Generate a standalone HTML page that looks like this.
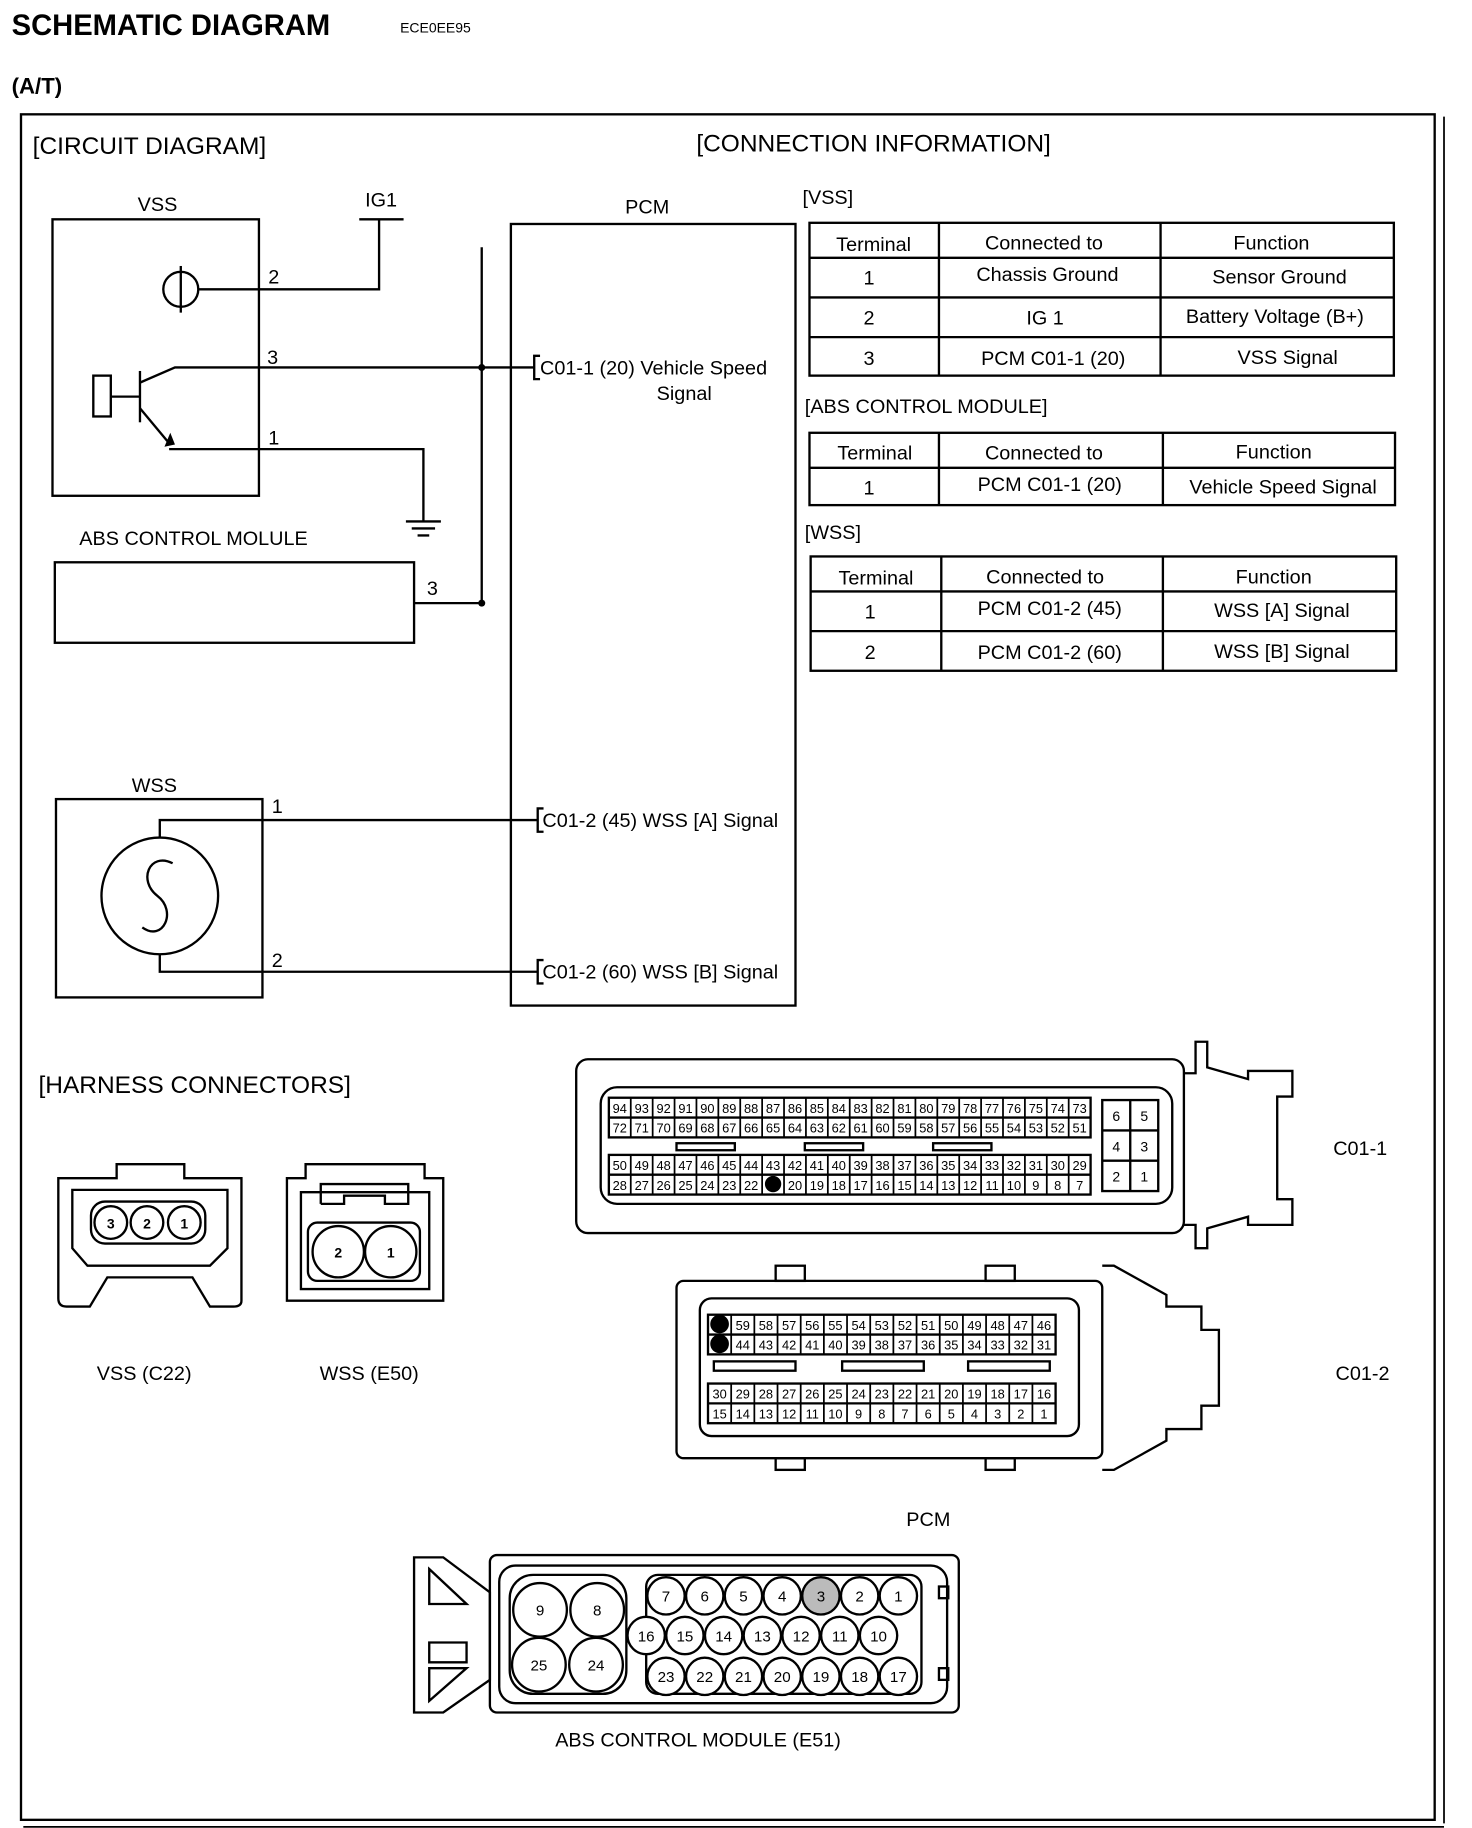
<!DOCTYPE html>
<html><head><meta charset="utf-8"><style>
html,body{margin:0;padding:0;background:#fff}
svg{display:block}
text{font-family:"Liberation Sans",sans-serif;fill:#000}
</style></head><body>
<svg width="1472" height="1828" viewBox="0 0 1262 1567" preserveAspectRatio="none" xmlns="http://www.w3.org/2000/svg">
<rect width="1280" height="1590" fill="#fff"/>
<g stroke="#000" fill="none" stroke-width="2">
<rect x="18" y="98" width="1212" height="1462"/>
<line x1="1238" y1="100" x2="1238" y2="1563" stroke-width="1.5"/>
<line x1="20" y1="1566" x2="1238" y2="1566" stroke-width="1.5"/>
</g>
<text x="10" y="30" font-size="25" font-weight="bold">SCHEMATIC DIAGRAM</text>
<text x="343" y="28" font-size="12">ECE0EE95</text>
<text x="10" y="80" font-size="19" font-weight="bold">(A/T)</text>
<text x="28" y="132" font-size="21">[CIRCUIT DIAGRAM]</text>
<text x="597" y="130" font-size="21">[CONNECTION INFORMATION]</text>

<g stroke="#000" fill="none" stroke-width="2">
<rect x="45" y="188" width="177" height="237"/>
<line x1="308" y1="188" x2="346" y2="188"/>
<polyline points="325,188 325,248 222,248"/>
<circle cx="155" cy="248" r="15"/>
<line x1="155" y1="228" x2="155" y2="268"/>
<line x1="170" y1="248" x2="222" y2="248"/>
<rect x="80" y="322" width="15" height="35"/>
<line x1="95" y1="340" x2="120" y2="340"/>
<line x1="120" y1="318" x2="120" y2="362"/>
<polyline points="120,328 150,315 458,315"/>
<polyline points="120,350 145,380"/>
<polyline points="145,385 363,385 363,447"/>
<line x1="348" y1="447" x2="378" y2="447"/>
<line x1="353" y1="453" x2="373" y2="453"/>
<line x1="358" y1="459" x2="368" y2="459"/>
<line x1="413" y1="212" x2="413" y2="517"/>
<rect x="47" y="482" width="308" height="69"/>
<line x1="355" y1="517" x2="413" y2="517"/>
<rect x="438" y="192" width="244" height="670"/>
<polyline points="463,305 458,305 458,325 463,325"/>
<polyline points="466,693 461,693 461,713 466,713"/>
<polyline points="466,823 461,823 461,843 466,843"/>
<rect x="48" y="685" width="177" height="170"/>
<circle cx="137" cy="768" r="50"/>
<path d="M148,740 C128,730 118,755 135,768 C152,781 140,808 122,795"/>
<polyline points="137,718 137,703 461,703"/>
<polyline points="137,818 137,833 461,833"/>
</g>
<polygon points="141,383 146,371 150,381" fill="#000"/>
<circle cx="413" cy="315" r="3" fill="#000"/>
<circle cx="413" cy="517" r="3" fill="#000"/>
<g font-size="17">
<text x="118" y="181">VSS</text>
<text x="313" y="177">IG1</text>
<text x="230" y="243">2</text>
<text x="229" y="312">3</text>
<text x="230" y="381">1</text>
<text x="68" y="467">ABS CONTROL MOLULE</text>
<text x="366" y="510">3</text>
<text x="536" y="183">PCM</text>
<text x="463" y="321">C01-1 (20)  Vehicle Speed</text>
<text x="563" y="343">Signal</text>
<text x="113" y="679">WSS</text>
<text x="233" y="697">1</text>
<text x="233" y="829">2</text>
<text x="465" y="709">C01-2 (45) WSS [A] Signal</text>
<text x="465" y="839">C01-2 (60) WSS [B] Signal</text>
</g>

<g stroke="#000" fill="none" stroke-width="2">
<rect x="694" y="191" width="501" height="131"/>
<line x1="805" y1="191" x2="805" y2="322"/><line x1="995" y1="191" x2="995" y2="322"/>
<line x1="694" y1="221" x2="1195" y2="221"/><line x1="694" y1="255" x2="1195" y2="255"/><line x1="694" y1="289" x2="1195" y2="289"/>
<rect x="694" y="371" width="502" height="62"/>
<line x1="805" y1="371" x2="805" y2="433"/><line x1="997" y1="371" x2="997" y2="433"/>
<line x1="694" y1="401" x2="1196" y2="401"/>
<rect x="695" y="477" width="502" height="98"/>
<line x1="807" y1="477" x2="807" y2="575"/><line x1="997" y1="477" x2="997" y2="575"/>
<line x1="695" y1="507" x2="1197" y2="507"/><line x1="695" y1="541" x2="1197" y2="541"/>
</g>
<g font-size="17" text-anchor="middle">
<text x="688" y="175" text-anchor="start">[VSS]</text>
<text x="749" y="215">Terminal</text><text x="895" y="214">Connected to</text><text x="1090" y="214">Function</text>
<text x="745" y="244">1</text><text x="898" y="241">Chassis Ground</text><text x="1097" y="243">Sensor Ground</text>
<text x="745" y="278">2</text><text x="896" y="278">IG 1</text><text x="1093" y="277">Battery Voltage (B+)</text>
<text x="745" y="313">3</text><text x="903" y="313">PCM C01-1 (20)</text><text x="1104" y="312">VSS Signal</text>
<text x="690" y="354" text-anchor="start">[ABS CONTROL MODULE]</text>
<text x="750" y="394">Terminal</text><text x="895" y="394">Connected to</text><text x="1092" y="393">Function</text>
<text x="745" y="424">1</text><text x="900" y="421">PCM C01-1 (20)</text><text x="1100" y="423">Vehicle Speed Signal</text>
<text x="690" y="462" text-anchor="start">[WSS]</text>
<text x="751" y="501">Terminal</text><text x="896" y="500">Connected to</text><text x="1092" y="500">Function</text>
<text x="746" y="530">1</text><text x="900" y="527">PCM C01-2 (45)</text><text x="1099" y="529">WSS [A] Signal</text>
<text x="746" y="565">2</text><text x="900" y="565">PCM C01-2 (60)</text><text x="1099" y="564">WSS [B] Signal</text>
</g>

<text x="33" y="937" font-size="21">[HARNESS CONNECTORS]</text>

<g stroke="#000" fill="none" stroke-width="2">
<path d="M50,1010 L100,1010 L100,998 L158,998 L158,1010 L207,1010 L207,1115 Q207,1120 200,1120 L180,1120 L165,1095 L92,1095 L77,1120 L57,1120 Q50,1120 50,1113 Z"/>
<path d="M62,1020 L195,1020 L195,1070 L180,1085 L75,1085 L62,1070 Z"/>
<rect x="78" y="1030" width="98" height="36" rx="12"/>
<circle cx="95" cy="1048" r="14"/><circle cx="126" cy="1048" r="14"/><circle cx="158" cy="1048" r="14"/>
<path d="M246,1010 L262,1010 L262,998 L364,998 L364,1010 L380,1010 L380,1115 L246,1115 Z"/>
<path d="M258,1022 L368,1022 L368,1105 L258,1105 Z"/>
<polyline points="275,1032 275,1015 350,1015 350,1032 330,1032 330,1025 295,1025 295,1032 275,1032"/>
<rect x="264" y="1048" width="96" height="50" rx="8"/>
<circle cx="290" cy="1073" r="22"/><circle cx="335" cy="1073" r="22"/>
</g>
<g font-size="12" font-weight="bold" text-anchor="middle">
<text x="95" y="1053">3</text><text x="126" y="1053">2</text><text x="158" y="1053">1</text>
<text x="290" y="1078">2</text><text x="335" y="1078">1</text>
</g>
<text x="83" y="1183" font-size="17">VSS (C22)</text>
<text x="274" y="1183" font-size="17">WSS (E50)</text>

<g stroke="#000" fill="none" stroke-width="2">
<rect x="494" y="908" width="521" height="149" rx="10"/>
<rect x="515" y="932" width="490" height="100" rx="14"/>
<path d="M1015,920 L1025,920 L1025,893 L1035,893 L1035,915 L1070,925 L1070,918 L1108,918 L1108,940 L1095,940 L1095,1028 L1108,1028 L1108,1050 L1070,1050 L1070,1043 L1035,1053 L1035,1070 L1025,1070 L1025,1050 L1015,1050"/>
<rect x="522" y="941" width="413" height="34"/>
<line x1="522" y1="958" x2="935" y2="958"/>
<rect x="522" y="990" width="413" height="34"/>
<line x1="522" y1="1007" x2="935" y2="1007"/>
<rect x="945" y="943" width="48" height="78"/>
<line x1="945" y1="969" x2="993" y2="969"/><line x1="945" y1="995" x2="993" y2="995"/><line x1="969" y1="943" x2="969" y2="1021"/>
<rect x="580" y="980" width="50" height="6"/><rect x="690" y="980" width="50" height="6"/><rect x="800" y="980" width="50" height="6"/>
</g>
<g font-size="11" text-anchor="middle" id="c011"></g>
<text x="1143" y="990" font-size="17">C01-1</text>

<g stroke="#000" fill="none" stroke-width="2">
<rect x="580" y="1098" width="365" height="152" rx="6"/>
<rect x="600" y="1113" width="325" height="118" rx="10"/>
<rect x="665" y="1085" width="25" height="13"/><rect x="845" y="1085" width="25" height="13"/>
<rect x="665" y="1250" width="25" height="10"/><rect x="845" y="1250" width="25" height="10"/>
<path d="M945,1085 L955,1085 L1000,1110 L1000,1120 L1030,1120 L1030,1140 L1045,1140 L1045,1205 L1030,1205 L1030,1225 L1000,1225 L1000,1235 L955,1260 L945,1260"/>
<rect x="607" y="1127" width="298" height="34"/><line x1="607" y1="1144" x2="905" y2="1144"/>
<rect x="607" y="1186" width="298" height="34"/><line x1="607" y1="1203" x2="905" y2="1203"/>
<rect x="612" y="1167" width="70" height="8"/><rect x="722" y="1167" width="70" height="8"/><rect x="830" y="1167" width="70" height="8"/>
</g>
<g font-size="11" text-anchor="middle" id="c012"></g>
<text x="1145" y="1183" font-size="17">C01-2</text>
<text x="777" y="1308" font-size="17">PCM</text>

<g stroke="#000" fill="none" stroke-width="2">
<path d="M355,1335 L380,1335 L420,1365 L420,1440 L380,1468 L355,1468 Z"/>
<path d="M368,1345 L400,1375 L368,1375 Z M368,1408 L400,1408 L400,1425 L368,1425 Z M368,1458 L400,1430 L368,1430 Z"/>
<rect x="420" y="1333" width="402" height="135" rx="6"/>
<rect x="428" y="1342" width="384" height="118" rx="14"/>
<rect x="805" y="1360" width="8" height="10"/><rect x="805" y="1430" width="8" height="10"/>
<rect x="437" y="1350" width="100" height="102" rx="20"/>
<rect x="554" y="1350" width="236" height="102" rx="10"/>
</g>
<g font-size="13" text-anchor="middle" id="abs"></g>
<text x="476" y="1497" font-size="17">ABS CONTROL MODULE (E51)</text>

<script>
var NS="http://www.w3.org/2000/svg";
function T(g,x,y,s,sz){var t=document.createElementNS(NS,"text");t.setAttribute("x",x);t.setAttribute("y",y);t.setAttribute("stroke","none");t.textContent=s;if(sz)t.setAttribute("font-size",sz);g.appendChild(t);}
function L(g,x1,y1,x2,y2){var l=document.createElementNS(NS,"line");l.setAttribute("x1",x1);l.setAttribute("y1",y1);l.setAttribute("x2",x2);l.setAttribute("y2",y2);l.setAttribute("stroke","#000");l.setAttribute("stroke-width","1.5");g.appendChild(l);}
function C(g,x,y,r,f){var c=document.createElementNS(NS,"circle");c.setAttribute("cx",x);c.setAttribute("cy",y);c.setAttribute("r",r);c.setAttribute("fill",f||"#fff");c.setAttribute("stroke","#000");c.setAttribute("stroke-width","2");g.appendChild(c);}
var g=document.getElementById("c011"),w=413/22;
for(var i=0;i<22;i++){var x=522+w*i;if(i>0){L(g,x,941,x,975);L(g,x,990,x,1024);}
T(g,x+w/2,954,94-i);T(g,x+w/2,971,72-i);T(g,x+w/2,1003,50-i);if(i!==7)T(g,x+w/2,1020,28-i);}
C(g,522+w*7.5,1015,6,"#000");
T(g,957,961,"6",12);T(g,981,961,"5",12);T(g,957,987,"4",12);T(g,981,987,"3",12);T(g,957,1013,"2",12);T(g,981,1013,"1",12);
g=document.getElementById("c012");w=298/15;
for(i=0;i<15;i++){var x=607+w*i;if(i>0){L(g,x,1127,x,1161);L(g,x,1186,x,1220);}
if(i===0){C(g,x+w/2,1135,7,"#000");C(g,x+w/2,1152,7,"#000");}else{T(g,x+w/2,1140,60-i);T(g,x+w/2,1157,45-i);}
T(g,x+w/2,1199,30-i);T(g,x+w/2,1216,15-i);}
g=document.getElementById("abs");
[[463,1380,"9"],[512,1380,"8"],[462,1427,"25"],[511,1427,"24"]].forEach(function(p){C(g,p[0],p[1],23);T(g,p[0],p[1]+5,p[2]);});
var r1=[7,6,5,4,3,2,1],r2=[16,15,14,13,12,11,10],r3=[23,22,21,20,19,18,17];
for(i=0;i<7;i++){var xa=571+33.2*i,xb=554+33.2*i;C(g,xa,1368,16,r1[i]===3?"#bbb":"#fff");T(g,xa,1373,r1[i]);C(g,xb,1402,16);T(g,xb,1407,r2[i]);C(g,xa,1437,16);T(g,xa,1442,r3[i]);}
</script>
</svg>
</body></html>
